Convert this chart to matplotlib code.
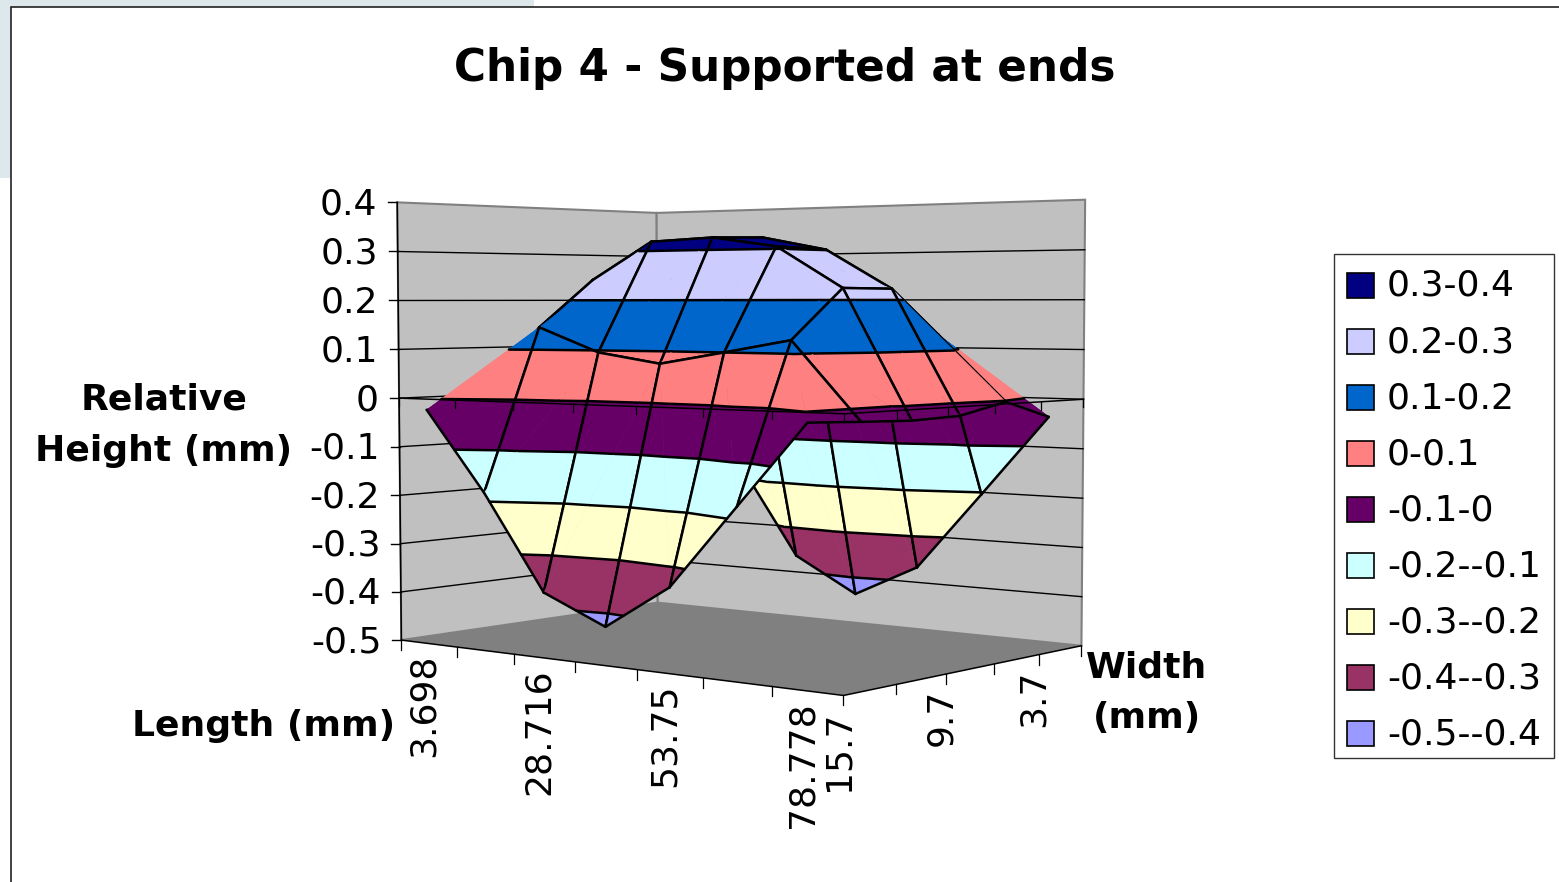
import numpy as np
import matplotlib
matplotlib.use('Agg')
import matplotlib.pyplot as plt
from matplotlib.patches import Polygon, Rectangle

# surface values, one row per width, one column per length
length_cats = [3.698, 16.2, 28.716, 41.2, 53.75, 66.2, 78.778]
width_cats = [15.7, 12.7, 9.7, 6.7, 3.7, 0.7]
row_15_7 = [-0.022, -0.183, -0.371, -0.425, -0.337, -0.177, -0.018]
row_12_7 = [-0.010, 0.145, 0.096, 0.076, 0.100, 0.125, -0.023]
row_9_7 = [0.000, 0.242, 0.319, 0.325, 0.305, 0.223, -0.027]
row_6_7 = [0.000, 0.275, 0.316, 0.328, 0.301, 0.222, -0.024]
row_3_7 = [0.000, 0.222, 0.200, 0.170, 0.180, 0.130, -0.002]
row_0_7 = [-0.010, -0.165, -0.364, -0.437, -0.368, -0.204, -0.038]
heights = np.array([row_15_7, row_12_7, row_9_7, row_6_7, row_3_7, row_0_7])

z_ticks = [0.4, 0.3, 0.2, 0.1, 0, -0.1, -0.2, -0.3, -0.4, -0.5]
z_labels = ['0.4', '0.3', '0.2', '0.1', '0', '-0.1', '-0.2', '-0.3', '-0.4', '-0.5']
length_labels = ['3.698', '', '28.716', '', '53.75', '', '78.778']
width_labels = ['15.7', '', '9.7', '', '3.7', '']
band_labels = ['0.3-0.4', '0.2-0.3', '0.1-0.2', '0-0.1', '-0.1-0',
               '-0.2--0.1', '-0.3--0.2', '-0.4--0.3', '-0.5--0.4']
band_colors = ['#000080', '#CCCCFF', '#0066CC', '#FF8080', '#660066',
               '#CCFFFF', '#FFFFCC', '#993366', '#9999FF']
z_min, z_max = -0.5, 0.4

TEXT_SIZE = 26
BOLD_SIZE = 26
MESH_LW = 1.8

# camera fitted to the corners of the chart box (u along length, v along width)
world = [(0, 0, z_min), (0, 0, z_max), (1, 0, z_min), (1, 1, z_min),
         (1, 1, z_max), (0, 1, z_min), (0, 1, z_max)]
screen = [(402, 640), (397, 202), (843, 696), (1082, 645),
          (1085, 200), (657, 603), (657, 213)]


def fit_camera(world, screen):
    rows, rhs = [], []
    for (u, v, z), (x, y) in zip(world, screen):
        rows.append([u, v, z, 1, 0, 0, 0, 0, -x*u, -x*v, -x*z])
        rows.append([0, 0, 0, 0, u, v, z, 1, -y*u, -y*v, -y*z])
        rhs += [x, y]
    p = np.linalg.lstsq(np.array(rows), np.array(rhs, dtype=float), rcond=None)[0]
    return np.append(p, 1).reshape(3, 4)


camera = fit_camera(world, screen)


def project(u, v, z):
    x, y, w = camera @ np.array([u, v, z, 1.0])
    return x/w, y/w


def project_all(pts):
    return [project(*p) for p in pts]


def clip_z(poly, level, keep_above):
    out = []
    for a, b in zip(poly, poly[1:] + poly[:1]):
        a_in = a[2] >= level if keep_above else a[2] <= level
        b_in = b[2] >= level if keep_above else b[2] <= level
        if a_in:
            out.append(a)
        if a_in != b_in:
            t = (level - a[2])/(b[2] - a[2])
            out.append(tuple(a[k] + t*(b[k] - a[k]) for k in range(3)))
    return out


def contour_segment(tri, level):
    pts = []
    for a, b in zip(tri, tri[1:] + tri[:1]):
        if (a[2] - level)*(b[2] - level) < 0:
            t = (level - a[2])/(b[2] - a[2])
            pts.append(tuple(a[k] + t*(b[k] - a[k]) for k in range(3)))
    return pts if len(pts) == 2 else None


fig = plt.figure(figsize=(15.59, 8.82), dpi=100)
plt.rcParams['font.family'] = ['DejaVu Sans']
ax = fig.add_axes([0, 0, 1, 1])
ax.set_xlim(0, 1559)
ax.set_ylim(882, 0)
ax.axis('off')

# page behind the chart
ax.add_patch(Rectangle((0, 0), 534, 178, fc='#DCE8EC', ec='none', zorder=0))
ax.add_patch(Rectangle((11, 7), 1560, 900, fc='white', ec='#222222', lw=1.2, zorder=0.5))

# walls and floor
ax.add_patch(Polygon(project_all([(0, 0, z_min), (0, 0, z_max), (0, 1, z_max), (0, 1, z_min)]),
                     fc='#C0C0C0', ec='#808080', lw=1.5, zorder=1))
ax.add_patch(Polygon(project_all([(0, 1, z_min), (0, 1, z_max), (1, 1, z_max), (1, 1, z_min)]),
                     fc='#C0C0C0', ec='#808080', lw=1.5, zorder=1))
ax.add_patch(Polygon(project_all([(0, 0, z_min), (1, 0, z_min), (1, 1, z_min), (0, 1, z_min)]),
                     fc='#808080', ec='none', zorder=1.1))

for z in z_ticks[1:-1]:
    pts = project_all([(0, 0, z), (0, 1, z), (1, 1, z)])
    ax.plot(*zip(*pts), color='black', lw=1.0, zorder=1.2)

# surface, painted from the far corner to the near one
zo = 2.0
us = [(i + 0.5)/len(length_cats) for i in range(len(length_cats))]
vs = [j/(len(width_cats) - 1) for j in range(len(width_cats))]
tops = [z_max - 0.1*k for k in range(len(band_colors))]


def node(i, j):
    return (us[i], vs[j], heights[j, i])


def draw_triangle(tri, edges):
    global zo
    for top, col in zip(tops, band_colors):
        poly = clip_z(clip_z(tri, top, False), top - 0.1, True)
        if len(poly) >= 3:
            zo += 0.001
            ax.add_patch(Polygon(project_all(poly), fc=col, ec=col, lw=0.4, zorder=zo))
    zo += 0.001
    for top in tops[1:]:
        seg = contour_segment(tri, top)
        if seg:
            ax.plot(*zip(*project_all(seg)), color='black', lw=MESH_LW, zorder=zo,
                    solid_capstyle='round')
    for a, b in edges:
        ax.plot(*zip(*project_all([a, b])), color='black', lw=MESH_LW, zorder=zo,
                solid_capstyle='round')


for j in range(len(width_cats) - 2, -1, -1):
    for i in range(len(length_cats) - 1):
        p00, p10, p11, p01 = node(i, j), node(i + 1, j), node(i + 1, j + 1), node(i, j + 1)
        if j == 0 and i >= 3:
            # the near row folds the other way on its right half
            draw_triangle([p10, p11, p01], [(p10, p11), (p11, p01)])
            draw_triangle([p00, p10, p01], [(p00, p10), (p01, p00)])
        else:
            draw_triangle([p00, p11, p01], [(p11, p01), (p01, p00)])
            draw_triangle([p00, p10, p11], [(p00, p10), (p10, p11)])

# axes: floor edges, the same edges again at z=0, and the height axis
AXIS_Z = 5
n_len, n_wid = len(length_cats), len(width_cats) - 1
for z, lw, tick in [(z_min, 1.1, 10), (0, 1.1, 8)]:
    ax.plot(*zip(*project_all([(0, 0, z), (1, 0, z), (1, 1, z)])), color='black', lw=lw, zorder=AXIS_Z)
    ticks = [(k/n_len, 0) for k in range(n_len + 1)] + [(1, k/n_wid) for k in range(1, n_wid + 1)]
    for u, v in ticks:
        x, y = project(u, v, z)
        ax.plot([x, x], [y, y + tick], color='black', lw=0.9, zorder=AXIS_Z)

ax.plot(*zip(*project_all([(0, 0, z_min), (0, 0, z_max)])), color='black', lw=1.1, zorder=AXIS_Z)
for z, lab in zip(z_ticks, z_labels):
    x, y = project(0, 0, z)
    ax.plot([x - 9, x], [y, y], color='black', lw=1.0, zorder=AXIS_Z)
    ax.text(x - 20, y + 2, lab, ha='right', va='center', fontsize=TEXT_SIZE, zorder=AXIS_Z)

# category labels, each one sits below its tick
for k, lab in enumerate(length_labels):
    if lab:
        x, y = project((k + 0.5)/n_len, 0, z_min)
        ax.text(x - 5, y + 10, lab, rotation=90, ha='center', va='top', fontsize=TEXT_SIZE, zorder=AXIS_Z)
for k, lab in enumerate(width_labels):
    if lab:
        x, y = project(1, k/n_wid, z_min)
        ax.text(x - 5, y + 15, lab, rotation=90, ha='center', va='top', fontsize=TEXT_SIZE, zorder=AXIS_Z)

ax.text(785, 69, 'Chip 4 - Supported at ends', ha='center', va='center',
        fontsize=31.5, fontweight='bold', zorder=AXIS_Z)
ax.text(164, 400, 'Relative', ha='center', va='center', fontsize=BOLD_SIZE, fontweight='bold', zorder=AXIS_Z)
ax.text(164, 451, 'Height (mm)', ha='center', va='center', fontsize=BOLD_SIZE, fontweight='bold', zorder=AXIS_Z)
ax.text(264, 726, 'Length (mm)', ha='center', va='center', fontsize=BOLD_SIZE, fontweight='bold', zorder=AXIS_Z)
ax.text(1147, 667, 'Width', ha='center', va='center', fontsize=BOLD_SIZE, fontweight='bold', zorder=AXIS_Z)
ax.text(1147, 718, '(mm)', ha='center', va='center', fontsize=BOLD_SIZE, fontweight='bold', zorder=AXIS_Z)

# legend
ax.add_patch(Rectangle((1334, 254), 220, 504, fc='white', ec='#333333', lw=1.0, zorder=AXIS_Z))
for k, (lab, col) in enumerate(zip(band_labels, band_colors)):
    yc = 285 + k*56.1
    ax.add_patch(Rectangle((1347, yc - 12.5), 27, 25, fc=col, ec='black', lw=1.2, zorder=AXIS_Z + 1))
    ax.text(1387, yc + 1, lab, ha='left', va='center', fontsize=TEXT_SIZE, zorder=AXIS_Z + 1)

fig.savefig('out.png', dpi=100)
